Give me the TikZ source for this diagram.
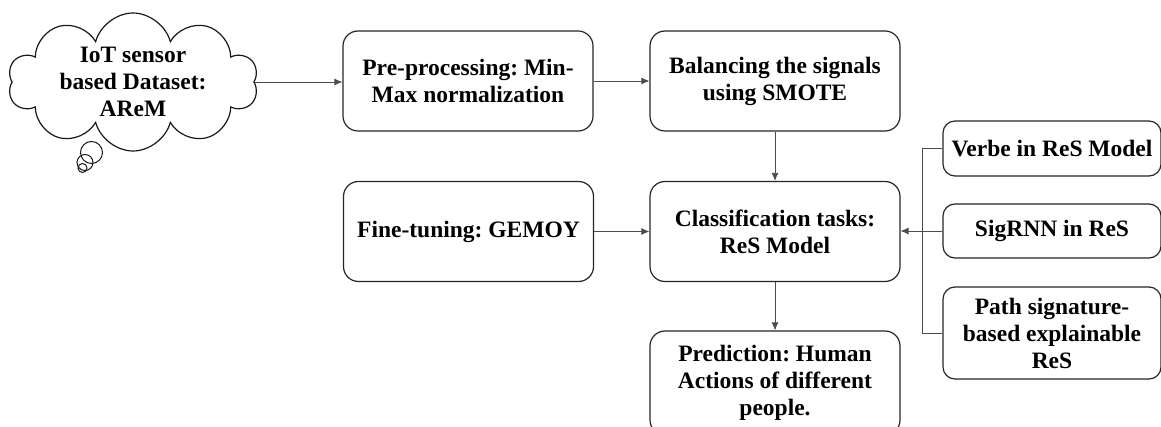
\documentclass[tikz,border=0pt]{standalone}
\usepackage{fontspec}
\setmainfont{Liberation Serif}
\usetikzlibrary{shapes.symbols,arrows.meta}
\frenchspacing
\tikzset{
  box/.style={rectangle, rounded corners=15pt, draw=black!85, line width=1.2pt, fill=white,
    minimum width=250pt, minimum height=100pt, align=center, inner sep=0pt,
    font=\bfseries\fontsize{23.5}{27}\selectfont},
  sidebox/.style={box, rounded corners=12pt, minimum width=218pt},
  conn/.style={draw=black!70, line width=0.8pt},
  arr/.style={conn, -{Latex[length=8pt,width=7pt]}},
  bubble/.style={draw=black!90, line width=1pt}
}
\begin{document}
\begin{tikzpicture}[x=1pt,y=-1pt]
\useasboundingbox (0,0) rectangle (1161,427);
\clip (0,0) rectangle (1161,427);
% thought bubbles
\node[bubble, circle, minimum size=22pt, inner sep=0pt] (b1) at (91.5,152.5) {};
\node[bubble, circle, minimum size=16pt, inner sep=0pt] (b2) at (85,162.5) {};
\node[bubble, circle, minimum size=9pt, inner sep=0pt] (b3) at (82.5,168) {};
% cloud
\node[cloud, cloud puffs=10, cloud ignores aspect, draw=black!90, line width=1.2pt, fill=white,
  minimum width=250pt, minimum height=138pt, inner sep=0pt] (cloud) at (133,82) {};
\node[align=center, font=\bfseries\fontsize{23.5}{27}\selectfont] (cloudtxt) at (cloud.center)
  {IoT sensor\\based Dataset:\\AReM};
% main boxes
\node[box] (pre) at (468,81) {Pre-processing: Min-\\Max normalization};
\node[box] (bal) at (775,81) {Balancing the signals\\using SMOTE};
\node[box] (fine) at (468.5,231.5) {Fine-tuning: GEMOY};
\node[box] (cls) at (775,231.5) {Classification tasks:\\ReS Model};
\node[box, minimum height=104pt] (pred) at (775,383) {Prediction: Human\\Actions of different\\people.};
% side boxes
\node[sidebox, minimum height=55pt] (verbe) at (1052,148.5) {Verbe in ReS Model};
\node[sidebox, minimum height=54pt] (sig) at (1052,231) {SigRNN in ReS};
\node[sidebox, minimum height=92pt] (path) at (1052,333) {Path signature-\\based explainable\\ReS};
\coordinate (jt) at (922,148.5);
\coordinate (jb) at (922,333);
% connectors
\draw[arr] (cloud.east |- 0,82) -- (pre.west |- 0,82);
\draw[arr] (pre.east) -- (bal.west);
\draw[arr] (bal.south) -- (cls.north);
\draw[arr] (fine.east) -- (cls.west);
\draw[arr] (cls.south) -- (pred.north);
\draw[conn] (verbe.west) -- (jt) -- (jb) -- (path.west);
\draw[arr] (sig.west) -- (cls.east |- sig.west);
\end{tikzpicture}
\end{document}
